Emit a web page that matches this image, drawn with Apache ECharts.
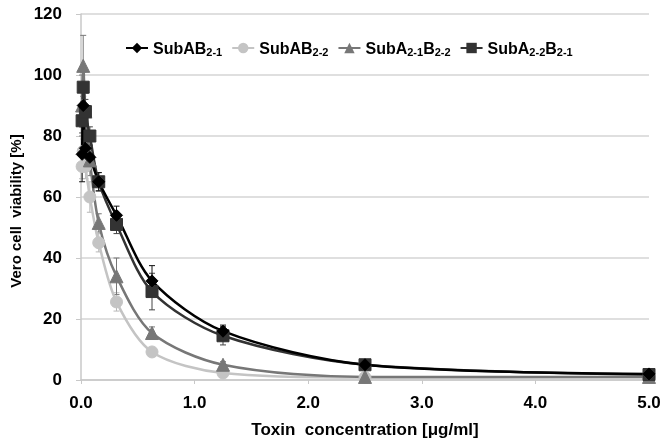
<!DOCTYPE html>
<html>
<head>
<meta charset="utf-8">
<script src="https://cdn.jsdelivr.net/npm/echarts@6/dist/echarts.min.js"></script>
<style>
html,body{margin:0;padding:0;background:#fff;}
#chart{width:664px;height:441px;}
</style>
</head>
<body>
<div id="chart"></div>
<script>
// toxin concentrations (µg/ml), two-fold dilution series
var conc = [0.0098, 0.0195, 0.039, 0.078, 0.156, 0.3125, 0.625, 1.25, 2.5, 5];

var subAB21 = [74, 90, 76, 73, 65, 54, 32.5, 16, 5, 2];
var subAB21Err = [9, 5, 4, 3, 3, 3, 5, 2, 1, 0.5];

var subAB22 = [70, 75, 70, 60, 45, 25.6, 9.2, 2.3, 0.8, 1];
var subAB22Err = [4, 4, 4, 5, 3, 3, 1.5, 1, 0.5, 0.5];

var subA21B22 = [90, 103, 88, 72, 51.5, 34, 15.4, 5, 1, 1];
var subA21B22Err = [10, 10, 6, 5, 3, 6, 2, 1, 0.5, 0.5];

var subA22B21 = [85, 96, 88, 80, 65, 51, 29, 14.5, 5, 1.8];
var subA22B21Err = [4, 5, 4, 3, 3, 3, 6, 3, 1, 0.5];

var names = ['SubAB2-1', 'SubAB2-2', 'SubA2-1B2-2', 'SubA2-2B2-1'];
var legendRich = {
	'SubAB2-1': '{b|SubAB}{s|2-1}',
	'SubAB2-2': '{b|SubAB}{s|2-2}',
	'SubA2-1B2-2': '{b|SubA}{s|2-1}{b|B}{s|2-2}',
	'SubA2-2B2-1': '{b|SubA}{s|2-2}{b|B}{s|2-1}'
};
var yTitle = 'Vero cell  viability [%]';
var xTitle = 'Toxin  concentration [μg/ml]';

var FONT = '"Liberation Sans", Arial, sans-serif';

function pairs(vals){
	var out = [];
	for(var i=0;i<conc.length;i++){
		out.push([conc[i], vals[i]]);
	}
	return out;
}

function errData(vals, errs){
	var out = [];
	for(var i=0;i<conc.length;i++){
		out.push([conc[i], vals[i] - errs[i], vals[i] + errs[i]]);
	}
	return out;
}

function errSeries(vals, errs, color){
	return {
		type: 'custom',
		z: 1,
		silent: true,
		data: errData(vals, errs),
		renderItem: function(params, api){
			var lo = api.coord([api.value(0), api.value(1)]);
			var hi = api.coord([api.value(0), api.value(2)]);
			var w = 3;
			var st = {stroke: color, lineWidth: 1};
			return {
				type: 'group',
				children: [
					{type: 'line', shape: {x1: lo[0], y1: lo[1], x2: hi[0], y2: hi[1]}, style: st},
					{type: 'line', shape: {x1: lo[0]-w, y1: lo[1], x2: lo[0]+w, y2: lo[1]}, style: st},
					{type: 'line', shape: {x1: hi[0]-w, y1: hi[1], x2: hi[0]+w, y2: hi[1]}, style: st}
				]
			};
		}
	};
}

function lineSeries(name, vals, color, symbol, size, width){
	return {
		name: name,
		type: 'line',
		z: 3,
		smooth: 0.3,
		data: pairs(vals),
		symbol: symbol,
		symbolSize: size,
		showAllSymbol: true,
		lineStyle: {color: color, width: width},
		itemStyle: {color: color, borderColor: color},
		emphasis: {disabled: true}
	};
}

var chart = echarts.init(document.getElementById('chart'));
chart.setOption({
	animation: false,
	backgroundColor: '#fff',
	grid: {left: 81, right: 15, top: 14, bottom: 61, containLabel: false, outerBoundsMode: 'none'},
	graphic: [{
		type: 'text',
		x: 17,
		y: 211,
		rotation: Math.PI / 2,
		style: {
			text: yTitle,
			fontFamily: FONT, fontWeight: 'bold', fontSize: 15, fill: '#000',
			align: 'center', verticalAlign: 'middle'
		}
	}],
	legend: {
		data: names,
		left: 120,
		top: 36,
		itemWidth: 22,
		itemHeight: 13,
		itemGap: 9,
		formatter: function(n){ return legendRich[n]; },
		textStyle: {
			fontFamily: FONT,
			rich: {
				b: {fontSize: 16, fontWeight: 'bold', fontFamily: FONT, color: '#000', verticalAlign: 'bottom', lineHeight: 20},
				s: {fontSize: 11, fontWeight: 'bold', fontFamily: FONT, color: '#000', verticalAlign: 'bottom', lineHeight: 14, padding: [6, 0, 0, 0]}
			}
		}
	},
	xAxis: {
		type: 'value',
		min: 0,
		max: 5,
		interval: 1,
		name: xTitle,
		nameLocation: 'middle',
		nameGap: 42,
		nameTextStyle: {fontFamily: FONT, fontWeight: 'bold', fontSize: 17, color: '#000'},
		axisLine: {lineStyle: {color: '#c8c8c8', width: 1.5}},
		axisTick: {show: true, length: 4, lineStyle: {color: '#c8c8c8'}},
		axisLabel: {
			fontFamily: FONT, fontWeight: 'bold', fontSize: 17, color: '#000', margin: 15,
			formatter: function(v){ return v.toFixed(1); }
		},
		splitLine: {show: false}
	},
	yAxis: {
		type: 'value',
		min: 0,
		max: 120,
		interval: 20,
		axisLine: {show: true, lineStyle: {color: '#c8c8c8', width: 1.5}},
		axisTick: {show: true, length: 5, lineStyle: {color: '#c8c8c8'}},
		axisLabel: {fontFamily: FONT, fontWeight: 'bold', fontSize: 17, color: '#000', margin: 19},
		splitLine: {lineStyle: {color: '#d4d4d4', width: 1.5}}
	},
	series: [
		errSeries(subAB22, subAB22Err, '#b8b8b8'),
		errSeries(subA21B22, subA21B22Err, '#777777'),
		errSeries(subA22B21, subA22B21Err, '#444444'),
		errSeries(subAB21, subAB21Err, '#111111'),
		lineSeries('SubAB2-2', subAB22, '#c4c4c4', 'circle', 12, 2.5),
		lineSeries('SubA2-1B2-2', subA21B22, '#777777', 'triangle', 13, 2.5),
		lineSeries('SubA2-2B2-1', subA22B21, '#333333', 'rect', 12, 2.5),
		lineSeries('SubAB2-1', subAB21, '#000000', 'diamond', 12, 2.5)
	]
});
</script>
</body>
</html>
